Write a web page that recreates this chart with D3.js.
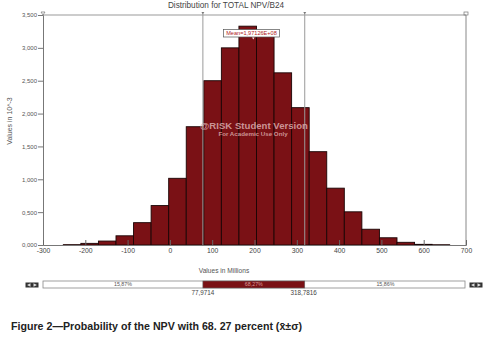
<!DOCTYPE html>
<html><head><meta charset="utf-8">
<script src="https://cdn.jsdelivr.net/npm/d3@7"></script>
<style>body{margin:0;background:#fff;} svg{display:block;font-family:"Liberation Sans",Arial,sans-serif;}</style>
</head><body>
<svg id="c" width="494" height="347"></svg>
<script>
// Data (values in 10^-3, x in millions)
const binStart = -252;
const binWidth = 41.52;
const binHeights = [0.005,0.025,0.060,0.140,0.340,0.600,1.015,1.800,2.500,3.000,3.330,3.220,2.620,2.090,1.420,0.865,0.505,0.240,0.110,0.041,0.010,0.004];
const xTicks = [-300,-200,-100,0,100,200,300,400,500,600,700];
const yTicks = [0,0.5,1,1.5,2,2.5,3,3.5];
const lowerBound = 77.9714, upperBound = 318.7816;
const meanValue = 197.126;
const pctLabels = ["15,87%","68,27%","15,86%"];
const boundLabels = ["77,9714","318,7816"];

const svg = d3.select("#c");
const L=43, R=466, T=15, B=245;
const x = d3.scaleLinear().domain([-300,700]).range([L,R]);
const y = d3.scaleLinear().domain([0,3.5]).range([B,T]);
const bins = binHeights.map((h,i)=>({x0:binStart+i*binWidth,x1:binStart+(i+1)*binWidth,h}));

// title
svg.append("text").attr("x",226).attr("y",8).attr("text-anchor","middle")
  .attr("font-size",8.2).attr("fill","#444").text("Distribution for TOTAL NPV/B24");

// frame
svg.append("line").attr("x1",L).attr("x2",R).attr("y1",T).attr("y2",T).attr("stroke","#999").attr("stroke-width",1);
svg.append("line").attr("x1",R).attr("x2",R).attr("y1",T).attr("y2",B).attr("stroke","#888").attr("stroke-width",1);

// bars
svg.append("g").selectAll("rect").data(bins).join("rect")
  .attr("x",d=>x(d.x0)).attr("width",d=>x(d.x1)-x(d.x0))
  .attr("y",d=>y(d.h)).attr("height",d=>B-y(d.h))
  .attr("fill","#7a1115").attr("stroke","#1a0505").attr("stroke-width",0.9);

// y axis
const ya = svg.append("g").attr("transform",`translate(${L},0)`)
  .call(d3.axisLeft(y).tickValues(yTicks).tickSize(5).tickPadding(1).tickFormat(d=>d3.format(".3f")(d).replace(".",",")));
ya.select(".domain").attr("stroke","#777");
ya.selectAll(".tick line").attr("stroke","#777");
ya.selectAll("text").attr("font-size",6).attr("fill","#555").attr("font-family","Liberation Sans,Arial,sans-serif");

// x axis
const xa = svg.append("g").attr("transform",`translate(0,${B})`)
  .call(d3.axisBottom(x).tickValues(xTicks).tickSize(-5).tickPadding(3).tickFormat(d=>d));
xa.select(".domain").attr("stroke","#777");
xa.selectAll(".tick line").attr("stroke","#666");
xa.selectAll("text").attr("font-size",6.8).attr("fill","#444").attr("font-family","Liberation Sans,Arial,sans-serif");

// reference lines
[lowerBound,upperBound].forEach(v=>{
  svg.append("line").attr("x1",x(v)).attr("x2",x(v)).attr("y1",T-2).attr("y2",B).attr("stroke","#9a9a9a").attr("stroke-width",1);
  svg.append("path").attr("d",`M${x(v)-1.5},${T-3}L${x(v)+1.5},${T-3}L${x(v)},${T-1}Z`).attr("fill","#777");
});
svg.append("path").attr("d",`M${L-2},${T-3}L${L+2},${T-3}L${L},${T}Z`).attr("fill","none").attr("stroke","#777").attr("stroke-width",0.7);
svg.append("rect").attr("x",R-2).attr("y",T-3).attr("width",4).attr("height",3).attr("fill","none").attr("stroke","#777").attr("stroke-width",0.7);

// mean label
const mx = x(meanValue);
svg.append("rect").attr("x",223.5).attr("y",29.5).attr("width",56).attr("height",7.5).attr("fill","#fff").attr("stroke","#555").attr("stroke-width",0.7);
svg.append("text").attr("x",251.5).attr("y",35.3).attr("text-anchor","middle").attr("font-size",5.6).attr("fill","#b01a1a").text("Mean=1,97126E+08");
svg.append("path").attr("d",`M${mx-1.2},${37.5}L${mx+1.2},${37.5}L${mx},${39.5}Z`).attr("fill","#fff");

// watermark
svg.append("text").attr("x",254).attr("y",128.5).attr("text-anchor","middle").attr("font-size",9.6).attr("font-weight","bold")
  .attr("fill","#e0b8b8").attr("fill-opacity",0.8).text("@RISK Student Version");
svg.append("text").attr("x",253).attr("y",136.3).attr("text-anchor","middle").attr("font-size",6.2).attr("font-weight","bold")
  .attr("fill","#e0b8b8").attr("fill-opacity",0.8).text("For Academic Use Only");

// y label
svg.append("text").attr("transform","translate(12,121) rotate(-90)").attr("text-anchor","middle")
  .attr("font-size",7).attr("fill","#555").text("Values in 10^-3");
// x label
svg.append("text").attr("x",224).attr("y",273).attr("text-anchor","middle").attr("font-size",6.6).attr("fill","#555").text("Values in Millions");

// slider
const sy=281, sh=7;
svg.append("rect").attr("x",L).attr("y",sy).attr("width",R-1-L).attr("height",sh).attr("fill","#fff").attr("stroke","#888").attr("stroke-width",0.8);
svg.append("rect").attr("x",x(lowerBound)).attr("y",sy).attr("width",x(upperBound)-x(lowerBound)).attr("height",sh).attr("fill","#7a1115").attr("stroke","#666").attr("stroke-width",0.6);
const centers=[(L+x(lowerBound))/2,(x(lowerBound)+x(upperBound))/2,(x(upperBound)+R)/2];
pctLabels.forEach((t,i)=>{
  svg.append("text").attr("x",centers[i]).attr("y",sy+5.3).attr("text-anchor","middle").attr("font-size",5.3)
    .attr("fill",i===1?"#d99a9a":"#555").text(t);
});
svg.append("text").attr("x",x(lowerBound)).attr("y",sy+14).attr("text-anchor","middle").attr("font-size",6.3).attr("fill","#444").text(boundLabels[0]);
svg.append("text").attr("x",x(upperBound)-1).attr("y",sy+14).attr("text-anchor","middle").attr("font-size",6.3).attr("fill","#444").text(boundLabels[1]);
// arrow icons
[[25.5,sy+1.5],[469.5,sy+1.5]].forEach(([ax,ay])=>{
  svg.append("rect").attr("x",ax).attr("y",ay).attr("width",13).attr("height",5).attr("fill","#333");
  svg.append("path").attr("d",`M${ax+1.5},${ay+2.5}L${ax+5},${ay+0.7}L${ax+5},${ay+4.3}Z M${ax+11.5},${ay+2.5}L${ax+8},${ay+0.7}L${ax+8},${ay+4.3}Z`).attr("fill","#ddd");
});

// caption
svg.append("text").attr("x",11).attr("y",330).attr("font-size",11).attr("font-weight","bold").attr("fill","#222")
  .attr("textLength",291).attr("lengthAdjust","spacingAndGlyphs")
  .text("Figure 2\u2014Probability of the NPV with 68. 27 percent (x\u0304\u00b1\u03c3)");
</script>
</body></html>
